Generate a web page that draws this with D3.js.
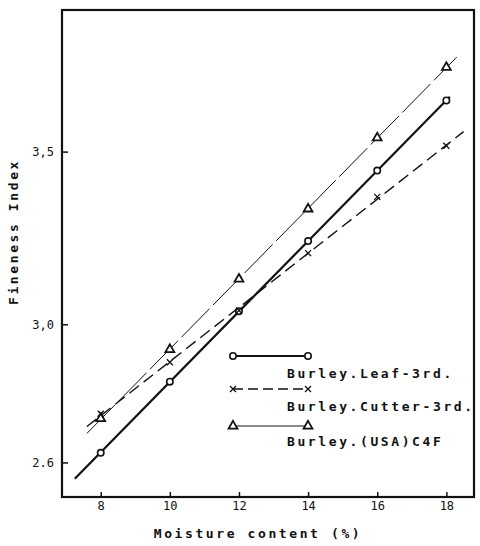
<!DOCTYPE html>
<html>
<head>
<meta charset="utf-8">
<script src="https://cdn.jsdelivr.net/npm/d3@7"></script>
<style>
  body { margin: 0; background: #fff; }
  .lbl { font-family: "DejaVu Sans Mono", monospace; font-weight: bold; font-size: 13px; letter-spacing: 2.6px; fill: #111; }
  .tick text { font-family: "DejaVu Sans Mono", monospace; font-size: 12px; fill: #111; }
</style>
</head>
<body>
<div id="vis1"></div>
<script>
// moisture content (%) at which fineness was measured
const moisture = [8, 10, 12, 14, 16, 18];

// fineness index
const leaf3rd   = [2.628, 2.834, 3.038, 3.241, 3.445, 3.648];
const cutter3rd = [2.741, 2.890, 3.040, 3.206, 3.369, 3.517];
const usaC4F    = [2.727, 2.927, 3.131, 3.334, 3.540, 3.744];

// x-extent of each fitted line (moisture %)
const leafSpan   = [7.25, 18.1];
const cutterSpan = [7.6, 18.5];
const c4fSpan    = [7.6, 18.3];

const seriesNames = ["Burley.Leaf-3rd.", "Burley.Cutter-3rd.", "Burley.(USA)C4F"];
const xTicks = [8, 10, 12, 14, 16, 18];
const yTicks = [2.6, 3.0, 3.5];
const yTickLabels = ["2.6", "3,0", "3,5"];

let margin = { top: 10, left: 62, right: 6, bottom: 49 },
  W = 480, H = 546,
  width = W - margin.left - margin.right,
  height = H - margin.top - margin.bottom;

let svg1 = d3.select('#vis1')
  .append('svg')
  .attr('width', W)
  .attr('height', H);

let x = d3.scaleLinear().domain([6.88, 18.8]).range([margin.left, margin.left + width]);
let y = d3.scaleLinear().domain([2.5, 3.91]).range([margin.top + height, margin.top]);

// frame
svg1.append("rect")
  .attr("x", margin.left).attr("y", margin.top)
  .attr("width", width).attr("height", height)
  .attr("fill", "none").attr("stroke", "#111").attr("stroke-width", 2.2);

// axes, ticks pointing inside
svg1.append("g")
  .attr("transform", `translate(0,${margin.top + height})`)
  .call(d3.axisBottom(x).tickValues(xTicks).tickSize(-5).tickPadding(4).tickFormat(d3.format("d")))
  .call(g => g.select(".domain").remove())
  .call(g => g.selectAll("line").attr("stroke", "#111").attr("stroke-width", 1.5));

svg1.append("g")
  .attr("transform", `translate(${margin.left},0)`)
  .call(d3.axisLeft(y).tickValues(yTicks).tickSize(-6).tickPadding(8)
    .tickFormat((d, i) => yTickLabels[i]))
  .call(g => g.select(".domain").remove())
  .call(g => g.selectAll("line").attr("stroke", "#111").attr("stroke-width", 1.5));

// least squares line through each series
function fit(ys) {
  let mx = d3.mean(moisture), my = d3.mean(ys);
  let b = d3.sum(moisture, (v, i) => (v - mx) * (ys[i] - my)) / d3.sum(moisture, v => (v - mx) ** 2);
  return xv => my + b * (xv - mx);
}

const series = [
  { name: seriesNames[0], vals: leaf3rd,   span: leafSpan,   dash: null,   legDash: null,   w: 2.2, marker: "circle" },
  { name: seriesNames[1], vals: cutter3rd, span: cutterSpan, dash: "12,6", legDash: "10,5", w: 1.4, marker: "cross" },
  { name: seriesNames[2], vals: usaC4F,    span: c4fSpan,    dash: "40,5", legDash: null,   w: 1.0, marker: "triangle" }
];

const line = d3.line().x(d => x(d[0])).y(d => y(d[1]));

series.forEach(s => {
  let f = fit(s.vals);
  svg1.append("path")
    .attr("d", line(s.span.map(v => [v, f(v)])))
    .attr("fill", "none")
    .attr("stroke", "#111")
    .attr("stroke-width", s.w)
    .attr("stroke-dasharray", s.dash);
});

function drawMarker(g, type, cx, cy) {
  if (type === "circle") {
    g.append("circle").attr("cx", cx).attr("cy", cy).attr("r", 3.2)
      .attr("fill", "#fff").attr("stroke", "#111").attr("stroke-width", 1.6);
  } else if (type === "triangle") {
    g.append("path")
      .attr("d", d3.symbol(d3.symbolTriangle, 34)())
      .attr("transform", `translate(${cx},${cy})`)
      .attr("fill", "#fff").attr("stroke", "#111").attr("stroke-width", 1.8);
  } else {
    g.append("path")
      .attr("d", `M${cx - 3},${cy - 3}L${cx + 3},${cy + 3}M${cx - 3},${cy + 3}L${cx + 3},${cy - 3}`)
      .attr("stroke", "#111").attr("stroke-width", 1.3);
  }
}

let marks = svg1.append("g");
series.forEach(s => {
  s.vals.forEach((v, i) => drawMarker(marks, s.marker, x(moisture[i]), y(v)));
});

// legend
let legendY = [356, 389, 426], textY = [378, 411, 446];
let legend = svg1.append("g");
series.forEach((s, i) => {
  legend.append("line")
    .attr("x1", 233).attr("x2", 307)
    .attr("y1", legendY[i]).attr("y2", legendY[i])
    .attr("stroke", "#111").attr("stroke-width", s.w)
    .attr("stroke-dasharray", s.legDash);
  drawMarker(legend, s.marker, 233, legendY[i]);
  drawMarker(legend, s.marker, 308, legendY[i]);
  legend.append("text").attr("class", "lbl")
    .attr("x", 287).attr("y", textY[i]).text(s.name);
});

// axis titles
svg1.append("text").attr("class", "lbl")
  .attr("x", 258).attr("y", 538).attr("text-anchor", "middle")
  .text("Moisture content (%)");

svg1.append("text").attr("class", "lbl")
  .attr("transform", "translate(18,232) rotate(-90)")
  .attr("text-anchor", "middle")
  .text("Fineness Index");
</script>
</body>
</html>
